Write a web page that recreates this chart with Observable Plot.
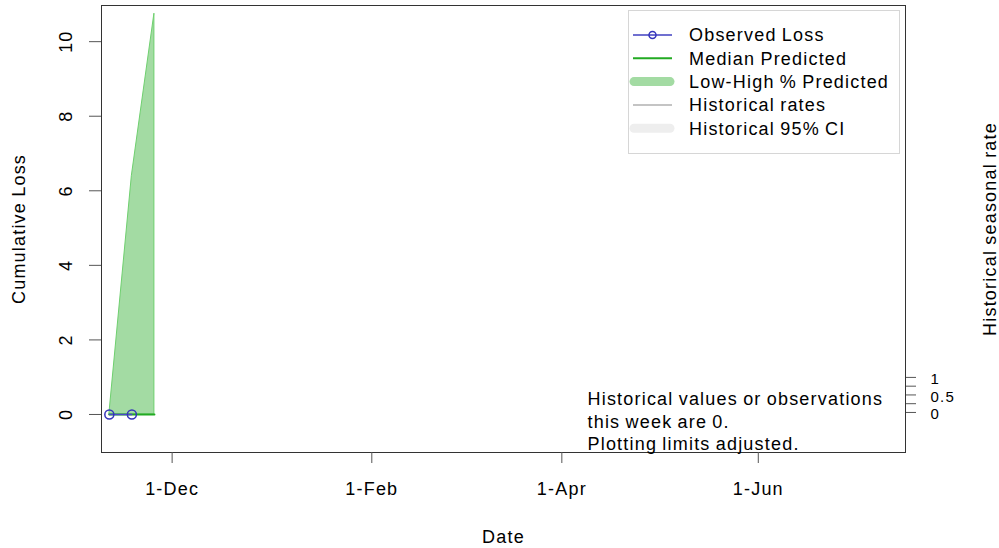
<!DOCTYPE html>
<html><head><meta charset="utf-8">
<script src="https://cdn.jsdelivr.net/npm/d3@7"></script>
<script src="https://cdn.jsdelivr.net/npm/@observablehq/plot@0.6"></script>
<style>
html,body{margin:0;padding:0;background:#fff;overflow:hidden;}
</style></head><body><div id="chart"></div>
<script>
// ---- data ----
const obsDates = ["2020-11-11T12:00Z", "2020-11-18T12:00Z"];
const obsLoss = [0, 0];
const predDates = ["2020-11-11T12:00Z", "2020-11-18T12:00Z", "2020-11-25T12:00Z"];
const predMedian = [0, 0, 0];
const predLow = [0, 0, 0];
const predHigh = [0, 6.4, 10.75];
const xTickDates = ["2020-12-01", "2021-02-01", "2021-04-01", "2021-06-01"];
const xTickLabels = ["1-Dec", "1-Feb", "1-Apr", "1-Jun"];
const yTicks = [0, 2, 4, 6, 8, 10];
const yTickLabels = ["0", "2", "4", "6", "8", "10"];
const rateTicks = [0, 0.25, 0.5, 0.75, 1];
const rateTickLabels = ["0", "", "0.5", "", "1"];
const legendLabels = ["Observed Loss", "Median Predicted", "Low-High % Predicted", "Historical rates", "Historical 95% CI"];
const legendKinds = ["point-line", "line", "band", "thin", "band"];
const legendColors = ["#4040c0", "#22aa22", "#a3dba3", "#b0b0b0", "#eeeeee"];
const annotationLines = ["Historical values or observations", "this week are 0.", "Plotting limits adjusted."];

// ---- tables ----
const obs = obsDates.map((d, i) => ({date: new Date(d), loss: obsLoss[i]}));
const pred = predDates.map((d, i) => ({date: new Date(d), median: predMedian[i], low: predLow[i], high: predHigh[i]}));
const rateToY = r => 0.054 + 0.94 * r; // secondary (right) axis mapping onto left units
const rateLabeled = rateTicks.map((r, i) => ({r, label: rateTickLabels[i]})).filter(d => d.label !== "");

const W = 999, H = 548;
const chart = Plot.plot({
  width: W, height: H,
  marginLeft: 101, marginRight: 94, marginTop: 5, marginBottom: 96,
  style: "font-family: 'Liberation Sans', Arial, sans-serif; font-size: 18px; letter-spacing: 1.2px; word-spacing: -1px; color: #000; background: #fff;",
  x: {type: "utc", domain: [new Date("2020-11-09T01:40Z"), new Date("2021-07-16T17:00Z")]},
  y: {domain: [-1.02, 10.97]},
  marks: [
    Plot.areaY(pred, {x: "date", y1: "low", y2: "high", fill: "#a3dba3", stroke: "#6fd06f", strokeWidth: 1}),
    Plot.line(pred, {x: "date", y: "median", stroke: "#22aa22", strokeWidth: 2}),
    Plot.line(obs, {x: "date", y: "loss", stroke: "#4a4ac8", strokeWidth: 1.5}),
    Plot.dot(obs, {x: "date", y: "loss", r: 4.5, stroke: "#3434bb", strokeWidth: 1.5, fill: "none"}),
    Plot.frame({stroke: "#333", strokeWidth: 1}),
    Plot.axisX({ticks: xTickDates.map(d => new Date(d)), tickFormat: (d, i) => xTickLabels[i], tickSize: 11, tickPadding: 19, stroke: "#555"}),
    Plot.axisY({ticks: yTicks, tickFormat: () => "", tickSize: 12, stroke: "#555"}),
    Plot.text(yTicks, {y: d => d, text: (d, i) => yTickLabels[i], frameAnchor: "left", textAnchor: "middle", lineAnchor: "middle", dx: -35, rotate: -90}),
    Plot.axisY({anchor: "right", ticks: rateTicks.map(rateToY), tickFormat: () => "", tickSize: 10, stroke: "#555"}),
    Plot.text(rateLabeled, {y: d => rateToY(d.r), text: "label", frameAnchor: "right", textAnchor: "start", lineAnchor: "middle", dx: 25, dy: 2, fontSize: 15}),
    Plot.text(["Cumulative Loss"], {text: d => d, frameAnchor: "left", textAnchor: "middle", lineAnchor: "middle", dx: -82, rotate: -90}),
    Plot.text(["Historical seasonal rate"], {text: d => d, frameAnchor: "right", textAnchor: "middle", lineAnchor: "middle", dx: 85, rotate: -90}),
    Plot.text(["Date"], {text: d => d, frameAnchor: "bottom", textAnchor: "middle", lineAnchor: "middle", dy: 85}),
    Plot.text([annotationLines.join("\n")], {text: d => d, frameAnchor: "bottom-right", textAnchor: "start", lineAnchor: "middle", lineHeight: 1.25, dx: -318, dy: -32})
  ]
});

// remove empty tick-label placeholders
d3.select(chart).selectAll("text").filter(function () { return this.textContent === ""; }).remove();

// ---- legend (inside plot, top-right) ----
const svg = d3.select(chart);
const lg = svg.append("g").attr("text-anchor", "start");
const bx = 628.5, by = 10.5, bw = 271, bh = 143, row0 = 35, step = 23.3;
lg.append("rect").attr("x", bx).attr("y", by).attr("width", bw).attr("height", bh)
  .attr("fill", "#fff").attr("stroke", "#d6d6d6").attr("stroke-width", 1);
legendLabels.forEach((lab, i) => {
  const y = row0 + i * step;
  const kind = legendKinds[i], col = legendColors[i];
  if (kind === "band") {
    lg.append("line").attr("x1", 634).attr("x2", 670).attr("y1", y).attr("y2", y)
      .attr("stroke", col).attr("stroke-width", 9).attr("stroke-linecap", "round");
  } else {
    lg.append("line").attr("x1", 633).attr("x2", 672).attr("y1", y).attr("y2", y)
      .attr("stroke", col).attr("stroke-width", kind === "line" ? 2 : 1.5);
    if (kind === "point-line") {
      lg.append("circle").attr("cx", 652.5).attr("cy", y).attr("r", 3.5)
        .attr("fill", "none").attr("stroke", "#3434bb").attr("stroke-width", 1.5);
    }
  }
  lg.append("text").attr("x", 689).attr("y", y).attr("dy", "0.35em").attr("fill", "#000").attr("text-anchor", "start").text(lab);
});

document.getElementById("chart").appendChild(chart);
</script>
</body></html>
